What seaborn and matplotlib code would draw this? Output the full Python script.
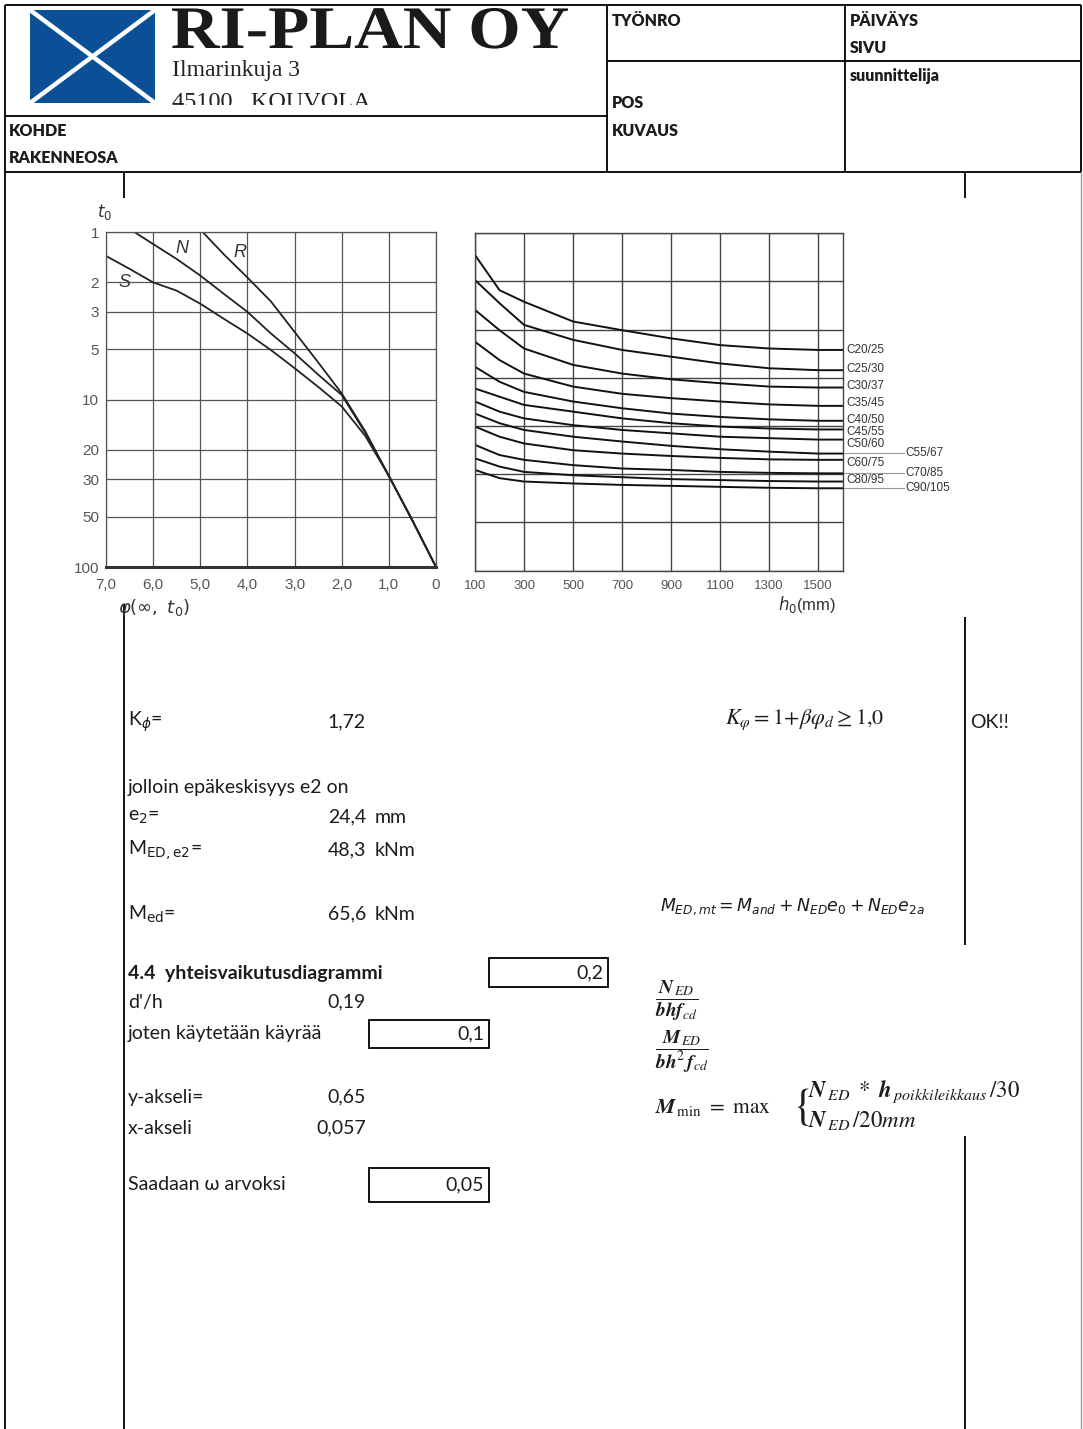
import numpy as np
import pandas as pd
import matplotlib
matplotlib.use("Agg")
import matplotlib.pyplot as plt
import seaborn as sns
from matplotlib.patches import Rectangle, PathPatch
from matplotlib.textpath import TextPath
from matplotlib.font_manager import FontProperties
from matplotlib.transforms import Affine2D

# ---------------- data ----------------
# creep chart (left): phi(inf, t0) vs t0 (days)
phi_N = [6.4, 6.0, 5.5, 5.0, 4.5, 4.0, 3.5, 3.0, 2.5, 2.0, 1.5, 1.0, 0.5, 0.0]
t0_N = [1.0, 1.18, 1.45, 1.82, 2.34, 3.0, 4.04, 5.3, 7.1, 9.4, 15.8, 28.6, 52.8, 100]
phi_R = [4.95, 4.5, 4.0, 3.5, 3.0, 2.5, 2.0, 1.5, 1.0, 0.5, 0.0]
t0_R = [1.0, 1.36, 1.87, 2.6, 3.95, 6.0, 9.2, 15.5, 28.6, 52.8, 100]
phi_S = [7.0, 6.5, 6.0, 5.5, 5.0, 4.5, 4.0, 3.5, 3.0, 2.5, 2.0, 1.5, 1.0, 0.5, 0.0]
t0_S = [1.39, 1.66, 2.0, 2.24, 2.68, 3.3, 4.04, 5.07, 6.5, 8.4, 11.0, 16.5, 28.6, 52.8, 100]
left_xticks = [7, 6, 5, 4, 3, 2, 1, 0]
left_xlabels = ["7,0", "6,0", "5,0", "4,0", "3,0", "2,0", "1,0", "0"]
left_yticks = [1, 2, 3, 5, 10, 20, 30, 50, 100]

# right chart: notional size h0 vs curve level (grid units)
h0 = [100, 200, 300, 500, 700, 900, 1100, 1300, 1500, 1600]
classes = ["C20/25", "C25/30", "C30/37", "C35/45", "C40/50", "C45/55",
           "C50/60", "C55/67", "C60/75", "C70/85", "C80/95", "C90/105"]
c20 = [6.55, 5.82, 5.58, 5.17, 4.99, 4.82, 4.68, 4.61, 4.58, 4.58]
c25 = [6.03, 5.55, 5.10, 4.79, 4.58, 4.44, 4.30, 4.20, 4.16, 4.16]
c30 = [5.41, 4.99, 4.61, 4.27, 4.09, 3.97, 3.89, 3.82, 3.80, 3.80]
c35 = [4.75, 4.37, 4.09, 3.82, 3.67, 3.58, 3.51, 3.45, 3.42, 3.42]
c40 = [4.23, 3.92, 3.71, 3.51, 3.37, 3.26, 3.19, 3.14, 3.11, 3.11]
c45 = [3.78, 3.61, 3.44, 3.30, 3.16, 3.06, 2.99, 2.95, 2.93, 2.93]
c50 = [3.51, 3.30, 3.16, 3.02, 2.92, 2.85, 2.78, 2.75, 2.72, 2.72]
c55 = [3.26, 3.06, 2.92, 2.78, 2.68, 2.59, 2.52, 2.47, 2.43, 2.43]
c60 = [2.99, 2.78, 2.64, 2.50, 2.43, 2.38, 2.34, 2.31, 2.30, 2.30]
c70 = [2.61, 2.40, 2.30, 2.19, 2.12, 2.09, 2.05, 2.03, 2.02, 2.02]
c80 = [2.33, 2.16, 2.05, 1.98, 1.94, 1.90, 1.88, 1.86, 1.85, 1.85]
c90 = [2.09, 1.92, 1.85, 1.81, 1.78, 1.76, 1.74, 1.72, 1.71, 1.71]
right_curves = [c20, c25, c30, c35, c40, c45, c50, c55, c60, c70, c80, c90]
label_y = [4.58, 4.18, 3.83, 3.47, 3.13, 2.88, 2.63, 2.45, 2.24, 2.02, 1.89, 1.71]
label_far = [False, False, False, False, False, False, False, True, False, True, False, True]
right_xticks = [100, 300, 500, 700, 900, 1100, 1300, 1500]

# ---------------- figure ----------------
sns.set_theme(style="white")
plt.rcParams["font.family"] = ["Lato", "DejaVu Sans"]

W, H = 1083, 1429
fig = plt.figure(figsize=(W / 100, H / 100), dpi=100)
fig.patch.set_facecolor("white")
page = fig.add_axes([0, 0, 1, 1])
page.set_xlim(0, W)
page.set_ylim(H, 0)
page.axis("off")

TXT = "#1c1c1c"
LW = 1.3


def hline(y, x0, x1, color="black", lw=LW):
    page.plot([x0, x1], [y, y], color=color, lw=lw, solid_capstyle="butt")


def vline(x, y0, y1, color="black", lw=LW):
    page.plot([x, x], [y0, y1], color=color, lw=lw, solid_capstyle="butt")


# header frame
hline(5, 5, 1081)
vline(5, 5, H)
vline(1081, 5, 172)
vline(1081, 172, H, color="#9a9a9a", lw=1.0)
hline(116, 5, 607)
vline(607, 5, 172)
vline(845, 5, 172)
hline(61, 607, 1081)
hline(172, 5, 1081)
vline(124, 172, 198)
vline(124, 604, H)
vline(965, 172, 198)
vline(965, 617, 945)
vline(965, 1136, H)

# logo
page.add_patch(Rectangle((30, 10), 125, 93, facecolor="#0b4f97", edgecolor="none"))
page.plot([30, 155], [10, 103], color="white", lw=3.2)
page.plot([30, 155], [103, 10], color="white", lw=3.2)

# company name, stretched to the width of the reference lettering
fp = FontProperties(family="Liberation Serif", weight="bold")
tp = TextPath((0, 0), "RI-PLAN OY", size=1, prop=fp)
ext = tp.get_extents()
sx = 396 / ext.width
sy = 40 / 0.662
tr = Affine2D().translate(-ext.x0, 0).scale(sx, -sy).translate(172, 48)
page.add_patch(PathPatch(tr.transform_path(tp), facecolor="#1a1a1a",
                         edgecolor="none"))

page.text(172, 70, "Ilmarinkuja 3", fontsize=17, family="Liberation Serif",
          color="#222", va="center", ha="left")
page.text(172, 102, "45100   KOUVOLA", fontsize=17.5, family="Liberation Serif",
          color="#222", va="center", ha="left")
page.add_patch(Rectangle((165, 104.5), 440, 10.5, facecolor="white",
                         edgecolor="none", zorder=3))

hdr = dict(fontsize=11.5, fontweight="heavy", color=TXT, va="center", ha="left")
page.text(612, 21, "TYÖNRO", **hdr)
page.text(850, 21, "PÄIVÄYS", **hdr)
page.text(850, 48, "SIVU", **hdr)
page.text(850, 76, "suunnittelija", **hdr)
page.text(612, 103, "POS", **hdr)
page.text(612, 131, "KUVAUS", **hdr)
page.text(9, 131, "KOHDE", **hdr)
page.text(9, 158, "RAKENNEOSA", **hdr)

# ---------------- left chart ----------------
axL = fig.add_axes([106 / W, 1 - 567 / H, 330 / W, 335 / H])
axL.set_facecolor("none")
dfL = pd.concat([
    pd.DataFrame({"phi": phi_N, "t0": t0_N, "curve": "N"}),
    pd.DataFrame({"phi": phi_R, "t0": t0_R, "curve": "R"}),
    pd.DataFrame({"phi": phi_S, "t0": t0_S, "curve": "S"}),
])
sns.lineplot(data=dfL, x="phi", y="t0", hue="curve", units="curve",
             estimator=None, sort=False, palette=["#222"] * 3, lw=1.3,
             legend=False, ax=axL)
axL.set_yscale("log")
axL.set_xlim(7, 0)
axL.set_ylim(100, 1)
axL.set_xticks(left_xticks)
axL.set_xticklabels(left_xlabels)
axL.set_yticks(left_yticks)
axL.set_yticklabels([str(v) for v in left_yticks])
axL.yaxis.set_minor_locator(matplotlib.ticker.NullLocator())
axL.grid(True, color="#555", lw=0.9)
axL.tick_params(length=0, labelsize=11, labelcolor="#555", pad=5)
axL.tick_params(axis="x", pad=8)
for lab in axL.get_xticklabels() + axL.get_yticklabels():
    lab.set_family("Liberation Sans")
for s in axL.spines.values():
    s.set_color("#555")
    s.set_linewidth(0.9)
axL.spines["bottom"].set_color("#333")
axL.spines["bottom"].set_linewidth(2.2)
axL.set_xlabel("")
axL.set_ylabel("")
for lab, (x, y) in zip(["N", "R", "S"], [(5.39, 1.25), (4.15, 1.32), (6.6, 2.0)]):
    axL.text(x, y, lab, fontsize=13, style="italic", color="#333",
             family="Liberation Sans", ha="center", va="center")
page.text(105, 212, r"$t_0$", fontsize=12, color="#333", ha="center",
          va="center", math_fontfamily="dejavusans")
page.text(118, 608, r"$\varphi(\infty,\ t_0)$", fontsize=13, color="#333",
          ha="left", va="center", math_fontfamily="dejavusans")

# ---------------- right chart ----------------
axR = fig.add_axes([475 / W, 1 - 570.7 / H, 367.7 / W, 337.4 / H])
axR.set_facecolor("none")
dfR = pd.concat([pd.DataFrame({"h0": h0, "level": vals, "cls": c})
                 for c, vals in zip(classes, right_curves)])
sns.lineplot(data=dfR, x="h0", y="level", hue="cls", units="cls",
             estimator=None, sort=False, palette=["#111"] * len(classes),
             lw=1.4, legend=False, ax=axR)
axR.set_xlim(100, 1600)
axR.set_ylim(0, 7)
axR.set_xticks(right_xticks)
axR.set_xticklabels([str(v) for v in right_xticks])
axR.set_yticks(range(8))
axR.set_yticklabels([])
axR.grid(True, color="#444", lw=1.0)
axR.tick_params(length=0, labelsize=9.5, labelcolor="#555", pad=7)
for lab in axR.get_xticklabels():
    lab.set_family("Liberation Sans")
for s in axR.spines.values():
    s.set_color("#444")
    s.set_linewidth(1.0)
axR.set_xlabel("")
axR.set_ylabel("")
for c, ly, far in zip(classes, label_y, label_far):
    if far:
        axR.plot([1600, 1850], [ly, ly], color="#999", lw=0.8, clip_on=False)
        axR.text(1857, ly, c, fontsize=8.5, color="#333", family="Liberation Sans",
                 ha="left", va="center", clip_on=False)
    else:
        axR.text(1615, ly, c, fontsize=8.5, color="#333", family="Liberation Sans",
                 ha="left", va="center", clip_on=False)
page.text(778, 604, r"$h_0$(mm)", fontsize=12, color="#333", ha="left",
          va="center", math_fontfamily="dejavusans", family="Liberation Sans")

# ---------------- calculation text ----------------
body = dict(fontsize=14, color=TXT, va="center")
mf = dict(math_fontfamily="dejavusans")
page.text(128, 722, r"K$_{\phi}$=", ha="left", **body, **mf)
page.text(366, 722, "1,72", ha="right", **body)
page.text(128, 787, "jolloin epäkeskisyys e2 on", ha="left", **body)
page.text(128, 817, r"e$_2$=", ha="left", **body, **mf)
page.text(366, 817, "24,4", ha="right", **body)
page.text(375, 817, "mm", ha="left", **body)
page.text(128, 850, r"M$_{\mathrm{ED,e2}}$=", ha="left", **body, **mf)
page.text(366, 850, "48,3", ha="right", **body)
page.text(375, 850, "kNm", ha="left", **body)
page.text(128, 914, r"M$_{\mathrm{ed}}$=", ha="left", **body, **mf)
page.text(366, 914, "65,6", ha="right", **body)
page.text(375, 914, "kNm", ha="left", **body)

page.text(128, 973, "4.4  yhteisvaikutusdiagrammi", ha="left", fontweight="bold", **body)
page.add_patch(Rectangle((489, 958), 119, 29, facecolor="none", edgecolor="black", lw=1.3))
page.text(603, 973, "0,2", ha="right", **body)
page.text(128, 1002, "d'/h", ha="left", **body)
page.text(366, 1002, "0,19", ha="right", **body)
page.text(128, 1034, "joten käytetään käyrää", ha="left", **body)
page.add_patch(Rectangle((369, 1020), 120, 28, facecolor="none", edgecolor="black", lw=1.3))
page.text(484, 1034, "0,1", ha="right", **body)
page.text(128, 1097, "y-akseli=", ha="left", **body)
page.text(366, 1097, "0,65", ha="right", **body)
page.text(128, 1128, "x-akseli", ha="left", **body)
page.text(366, 1128, "0,057", ha="right", **body)
page.text(128, 1185, "Saadaan ω arvoksi", ha="left", **body)
page.add_patch(Rectangle((369, 1168), 120, 34, facecolor="none", edgecolor="black", lw=1.3))
page.text(484, 1185, "0,05", ha="right", **body)

page.text(970, 722, "OK!!", ha="left", **body)

# formulas
page.text(725, 720, r"$K_{\varphi} = 1\!+\!\beta\varphi_{d} \geq 1{,}0$", fontsize=16,
          color=TXT, ha="left", va="center", math_fontfamily="stix")
page.text(660, 907, r"$M_{ED,mt}=M_{and}+N_{ED}e_{0}+N_{ED}e_{2a}$", fontsize=12.5,
          color=TXT, ha="left", va="center", math_fontfamily="dejavusans")
page.text(655, 1001, r"$\dfrac{\mathbfit{N}_{\,ED}}{\mathbfit{bhf}_{cd}}$",
          fontsize=14, color=TXT, ha="left", va="center", math_fontfamily="stix")
page.text(655, 1052, r"$\dfrac{\mathbfit{M}_{\,ED}}{\mathbfit{bh}^{2}\,\mathbfit{f}_{cd}}$",
          fontsize=14, color=TXT, ha="left", va="center", math_fontfamily="stix")
page.text(655, 1108, r"$\mathbfit{M}_{\,\min}\ =\ \mathrm{max}$", fontsize=15.5, color=TXT,
          ha="left", va="center", math_fontfamily="stix")
page.text(792, 1107, r"$\{$", fontsize=32, color=TXT, ha="left", va="center",
          math_fontfamily="stix")
page.text(808, 1092, r"$\mathbfit{N}_{\,ED}\ *\ \mathbfit{h}_{\,poikkileikkaus}\,/30$",
          fontsize=16.5, color=TXT, ha="left", va="center", math_fontfamily="stix")
page.text(808, 1121, r"$\mathbfit{N}_{\,ED}\,/20\mathit{mm}$", fontsize=16.5, color=TXT,
          ha="left", va="center", math_fontfamily="stix")

fig.savefig("out.png", dpi=100, facecolor="white")
